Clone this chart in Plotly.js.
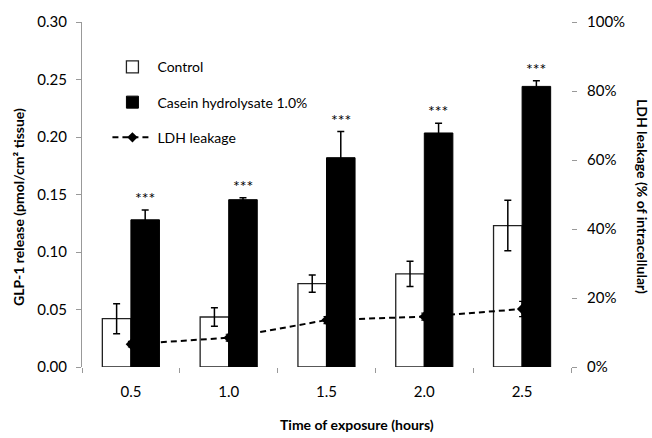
<!DOCTYPE html>
<html>
<head>
<meta charset="utf-8">
<script src="https://cdn.plot.ly/plotly-3.0.1.min.js"></script>
<style>html,body{margin:0;padding:0;background:#fff;}#chart{width:652px;height:438px;}</style>
</head>
<body>
<div id="chart"></div>
<script>
// Data
const timeLabels = ['0.5', '1.0', '1.5', '2.0', '2.5'];
const controlValues = [0.042, 0.0435, 0.0725, 0.081, 0.123];
const controlErrors = [0.013, 0.008, 0.0075, 0.011, 0.022];
const caseinValues = [0.128, 0.1455, 0.182, 0.2035, 0.244];
const caseinErrors = [0.0085, 0.0017, 0.0227, 0.0085, 0.005];
const ldhValues = [6.6, 8.5, 13.6, 14.6, 16.8];
const ldhErrors = [0.8, 1.0, 1.0, 1.0, 2.2];
const starLabels = ['***', '***', '***', '***', '***'];

const FONT = 'Lato, "Open Sans", sans-serif';

const traces = [
  {
    type: 'bar', name: 'Control', x: timeLabels, y: controlValues,
    marker: {color: '#ffffff', line: {color: '#222222', width: 1.3}},
    error_y: {type: 'data', array: controlErrors, visible: true, color: '#000', thickness: 1.5, width: 3.5},
    legendgroup: 'a'
  },
  {
    type: 'bar', name: 'Casein hydrolysate 1.0%', x: timeLabels, y: caseinValues,
    marker: {color: '#000000', line: {color: '#000000', width: 1}},
    error_y: {type: 'data', array: caseinErrors, visible: true, color: '#000', thickness: 1.5, width: 3.5},
    legendgroup: 'b'
  },
  {
    type: 'scatter', mode: 'lines+markers', name: 'LDH leakage', x: timeLabels, y: ldhValues,
    yaxis: 'y2',
    line: {color: '#000', width: 2, dash: '6px,4px'},
    marker: {symbol: 'diamond', size: 8, color: '#000'},
    error_y: {type: 'data', array: ldhErrors, visible: true, color: '#000', thickness: 1.2, width: 3},
    legendgroup: 'c'
  }
];

// category index is used as annotation x (category axis positions)
const annotations = timeLabels.map((t, i) => ({
  x: i, y: caseinValues[i] + caseinErrors[i], xref: 'x', yref: 'y',
  text: starLabels[i], showarrow: false, xshift: 14, yanchor: 'bottom', yshift: 1,
  font: {family: FONT, size: 16, color: '#000'}
}));

annotations.push({
  xref: 'paper', yref: 'paper', x: -0.13, y: 0.465, xanchor: 'center', yanchor: 'middle', textangle: -90,
  text: 'GLP-1 release (pmol/cm² tissue)', showarrow: false,
  font: {family: FONT, size: 14, color: '#000', weight: 'bold'}
});
annotations.push({
  xref: 'paper', yref: 'paper', x: 1.145, y: 0.493, xanchor: 'center', yanchor: 'middle', textangle: 90,
  text: 'LDH leakage (% of intracellular)', showarrow: false,
  font: {family: FONT, size: 14, color: '#000', weight: 'bold'}
});
annotations.push({
  xref: 'paper', yref: 'paper', x: 0.563, y: -0.168, xanchor: 'center', yanchor: 'middle',
  text: 'Time of exposure (hours)', showarrow: false,
  font: {family: FONT, size: 14, color: '#000', weight: 'bold'}
});

const layout = {
  width: 652, height: 438,
  margin: {l: 82, r: 81, t: 22, b: 71},
  paper_bgcolor: '#fff', plot_bgcolor: '#fff',
  font: {family: FONT, color: '#000'},
  barmode: 'group', bargap: 0.416, bargroupgap: 0,
  showlegend: true,
  legend: {
    x: 0.052, y: 0.915, xanchor: 'left', yanchor: 'top',
    bgcolor: 'rgba(0,0,0,0)', font: {family: FONT, size: 14, color: '#000'},
    tracegroupgap: 14, traceorder: 'grouped', itemwidth: 40
  },
  xaxis: {
    type: 'category', showline: false, showgrid: false, zeroline: false,
    ticks: 'outside', tickson: 'boundaries', ticklen: 5, tickcolor: '#999', tickwidth: 1,
    tickfont: {family: FONT, size: 15, color: '#000'}, ticklabelstandoff: 14
  },
  yaxis: {
    range: [0, 0.30], dtick: 0.05, tickformat: '.2f',
    showline: true, linecolor: '#999', linewidth: 1, showgrid: false, zeroline: false,
    ticks: 'outside', ticklen: 5, tickcolor: '#999',
    tickfont: {family: FONT, size: 15, color: '#000'}, ticklabelstandoff: 6
  },
  yaxis2: {
    overlaying: 'y', side: 'right', range: [0, 100], dtick: 20, ticksuffix: '%',
    showline: false, showgrid: false, zeroline: false,
    ticks: 'outside', ticklen: 5, tickcolor: '#999',
    tickfont: {family: FONT, size: 15, color: '#000'}, ticklabelstandoff: 7
  },
  annotations: annotations
};

Plotly.newPlot('chart', traces, layout, {displayModeBar: false, staticPlot: true});
</script>
</body>
</html>
